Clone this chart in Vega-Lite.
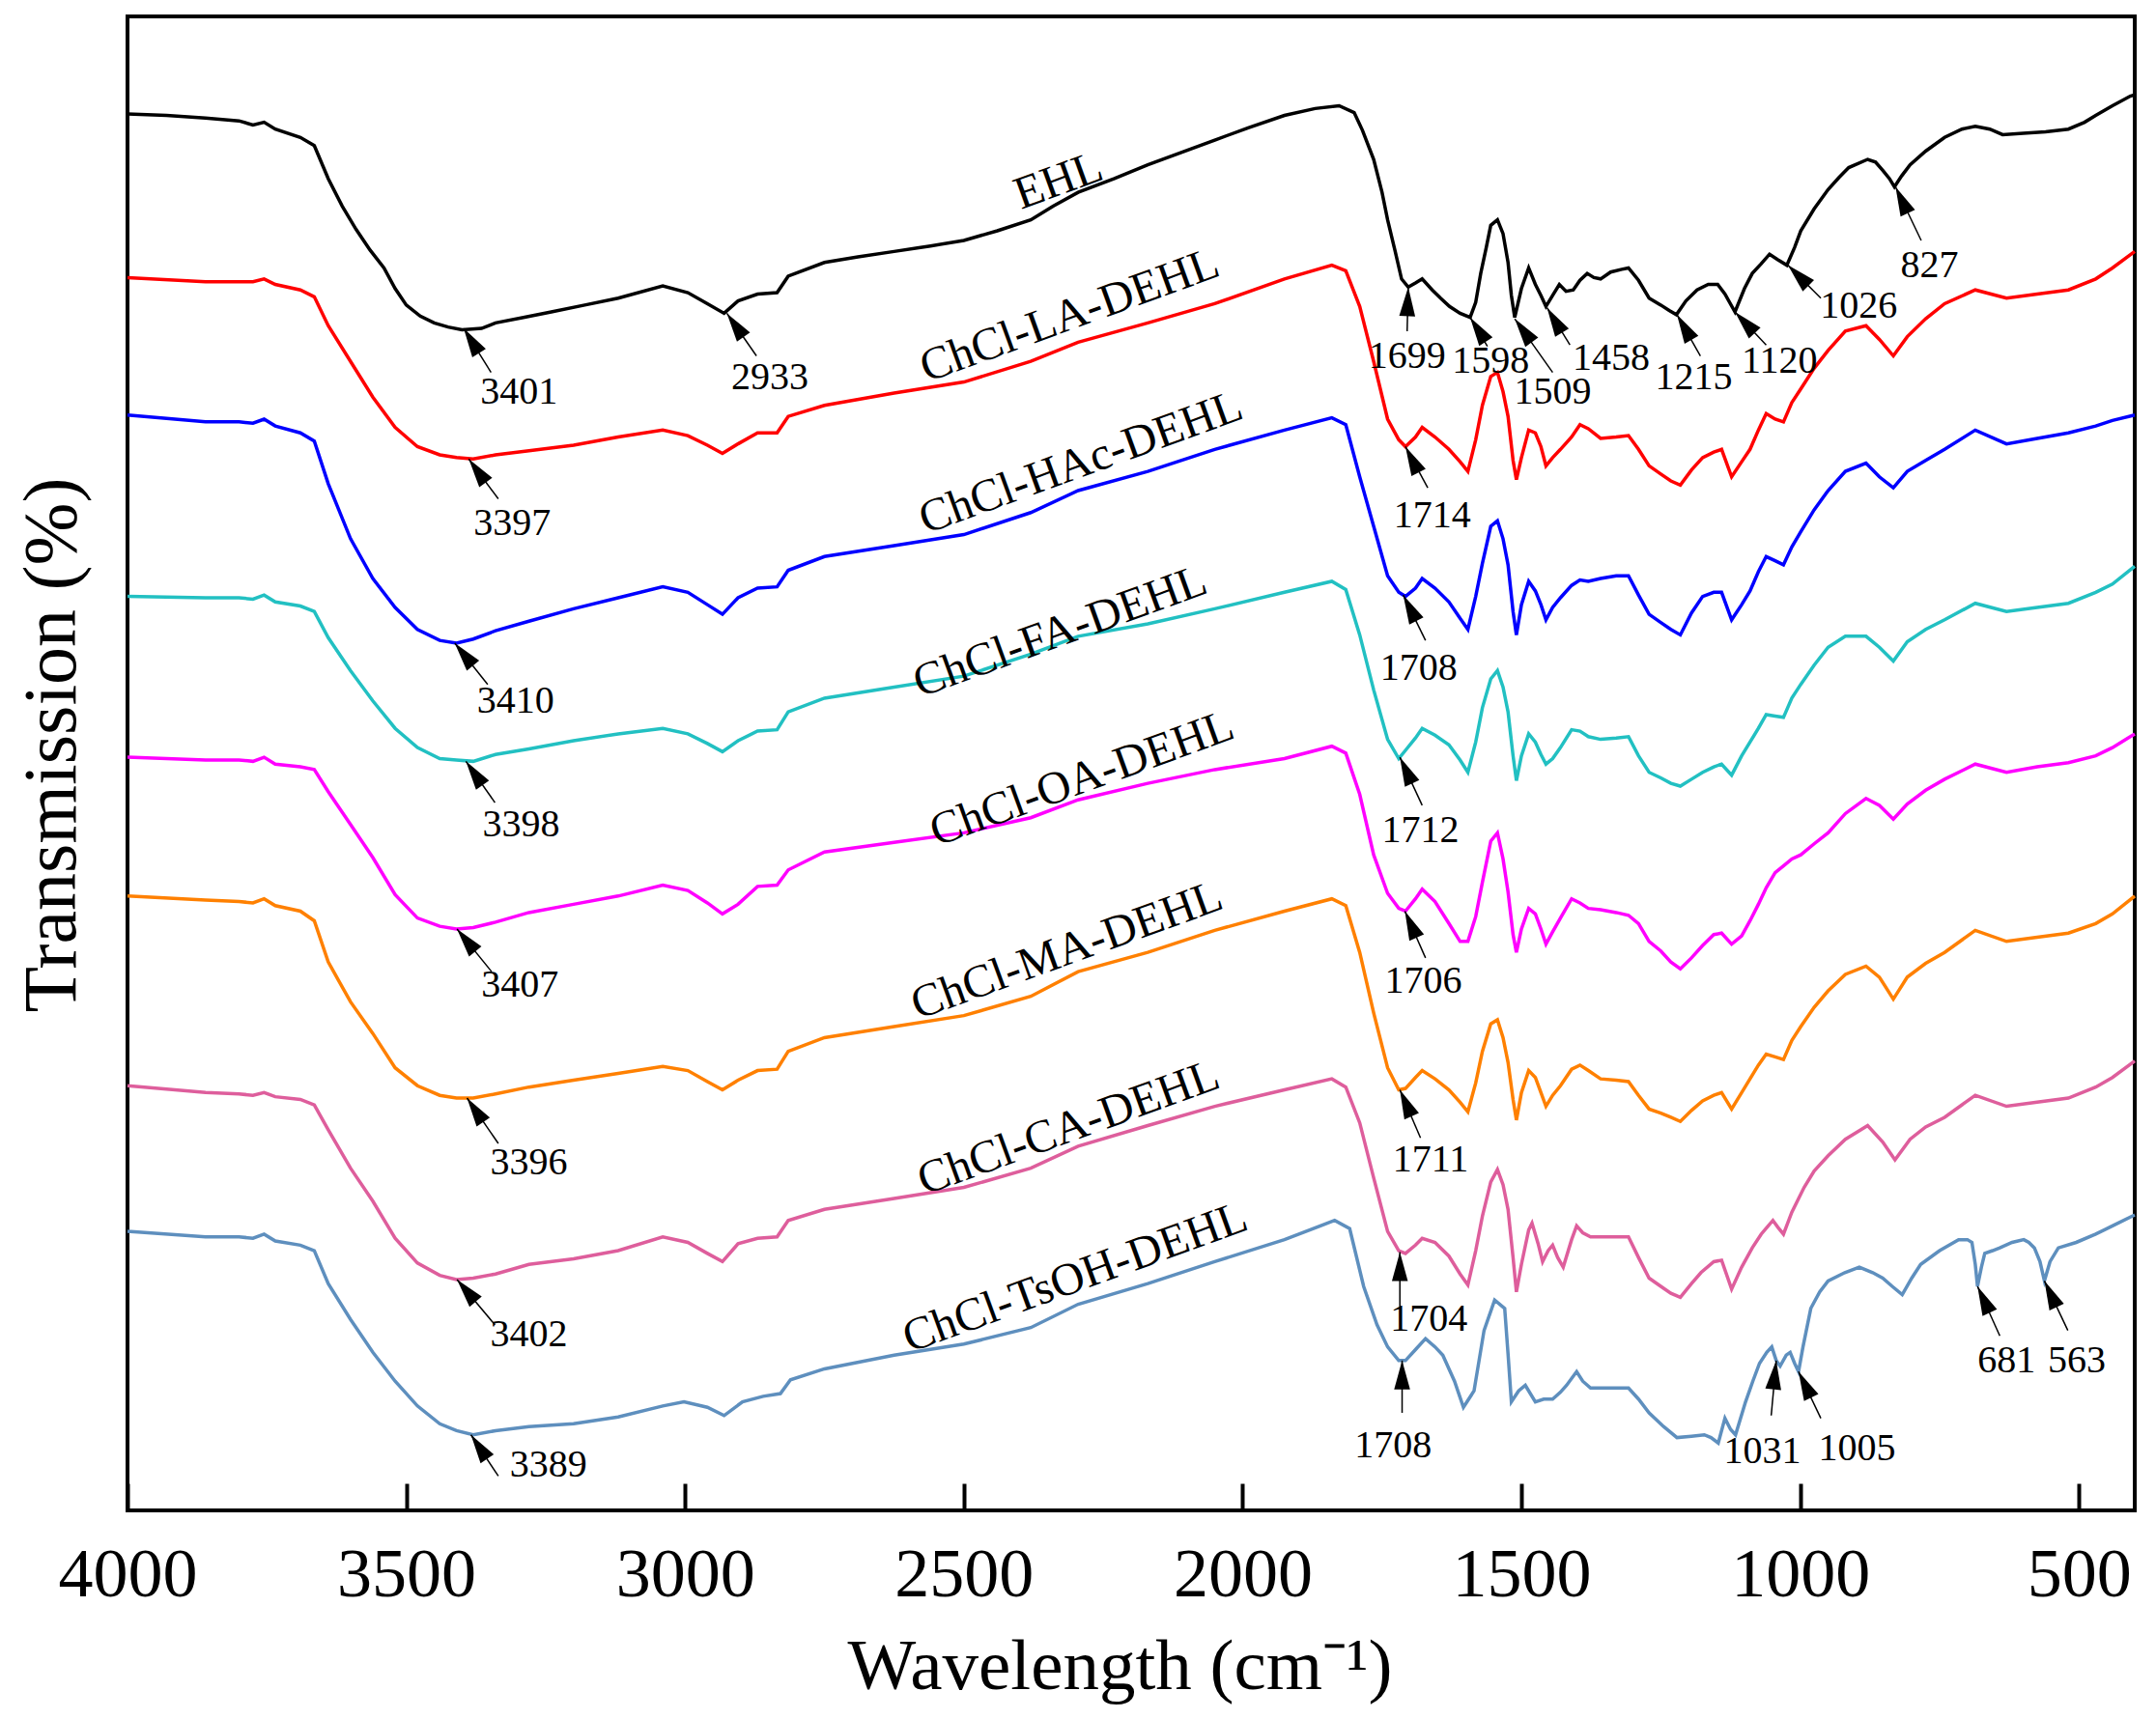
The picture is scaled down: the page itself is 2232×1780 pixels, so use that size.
{
"$schema": "https://vega.github.io/schema/vega-lite/v6.json",
"autosize": {"type": "none"},
"width": 2078,
"height": 1547,
"padding": {"left": 132, "top": 17, "right": 22, "bottom": 216},
"background": "white",
"config": {"view": {"stroke": "black", "strokeWidth": 4}, "axis": {"grid": false}},
"datasets": {
"spectra": [
{"s":"EHL","w":4000,"v":83},{"s":"EHL","w":3930,"v":84},{"s":"EHL","w":3860,"v":86},{"s":"EHL","w":3800,"v":88},{"s":"EHL","w":3775,"v":91},{"s":"EHL","w":3755,"v":89},{"s":"EHL","w":3735,"v":94},{"s":"EHL","w":3690,"v":100},{"s":"EHL","w":3665,"v":106},{"s":"EHL","w":3640,"v":130},{"s":"EHL","w":3615,"v":150},{"s":"EHL","w":3590,"v":167},{"s":"EHL","w":3565,"v":182},{"s":"EHL","w":3540,"v":195},{"s":"EHL","w":3520,"v":210},{"s":"EHL","w":3500,"v":222},{"s":"EHL","w":3475,"v":230},{"s":"EHL","w":3450,"v":235},{"s":"EHL","w":3425,"v":238},{"s":"EHL","w":3400,"v":240},{"s":"EHL","w":3365,"v":239},{"s":"EHL","w":3340,"v":235},{"s":"EHL","w":3290,"v":231},{"s":"EHL","w":3240,"v":227},{"s":"EHL","w":3180,"v":222},{"s":"EHL","w":3120,"v":217},{"s":"EHL","w":3040,"v":208},{"s":"EHL","w":2995,"v":213},{"s":"EHL","w":2960,"v":221},{"s":"EHL","w":2930,"v":228},{"s":"EHL","w":2905,"v":219},{"s":"EHL","w":2870,"v":214},{"s":"EHL","w":2835,"v":213},{"s":"EHL","w":2815,"v":201},{"s":"EHL","w":2750,"v":191},{"s":"EHL","w":2690,"v":187},{"s":"EHL","w":2625,"v":183},{"s":"EHL","w":2560,"v":179},{"s":"EHL","w":2500,"v":175},{"s":"EHL","w":2440,"v":168},{"s":"EHL","w":2380,"v":160},{"s":"EHL","w":2340,"v":150},{"s":"EHL","w":2295,"v":140},{"s":"EHL","w":2230,"v":130},{"s":"EHL","w":2170,"v":120},{"s":"EHL","w":2110,"v":111},{"s":"EHL","w":2050,"v":102},{"s":"EHL","w":1990,"v":93},{"s":"EHL","w":1925,"v":84},{"s":"EHL","w":1870,"v":79},{"s":"EHL","w":1827,"v":77},{"s":"EHL","w":1800,"v":82},{"s":"EHL","w":1785,"v":95},{"s":"EHL","w":1765,"v":116},{"s":"EHL","w":1750,"v":140},{"s":"EHL","w":1740,"v":160},{"s":"EHL","w":1727,"v":182},{"s":"EHL","w":1715,"v":203},{"s":"EHL","w":1703,"v":209},{"s":"EHL","w":1690,"v":206},{"s":"EHL","w":1678,"v":203},{"s":"EHL","w":1660,"v":211},{"s":"EHL","w":1645,"v":217},{"s":"EHL","w":1629,"v":223},{"s":"EHL","w":1610,"v":228},{"s":"EHL","w":1592,"v":231},{"s":"EHL","w":1582,"v":220},{"s":"EHL","w":1573,"v":199},{"s":"EHL","w":1563,"v":180},{"s":"EHL","w":1555,"v":164},{"s":"EHL","w":1543,"v":160},{"s":"EHL","w":1533,"v":170},{"s":"EHL","w":1524,"v":191},{"s":"EHL","w":1518,"v":215},{"s":"EHL","w":1512,"v":231},{"s":"EHL","w":1500,"v":210},{"s":"EHL","w":1487,"v":195},{"s":"EHL","w":1475,"v":207},{"s":"EHL","w":1465,"v":215},{"s":"EHL","w":1456,"v":223},{"s":"EHL","w":1444,"v":215},{"s":"EHL","w":1432,"v":207},{"s":"EHL","w":1420,"v":212},{"s":"EHL","w":1407,"v":211},{"s":"EHL","w":1395,"v":204},{"s":"EHL","w":1382,"v":199},{"s":"EHL","w":1370,"v":202},{"s":"EHL","w":1358,"v":203},{"s":"EHL","w":1340,"v":198},{"s":"EHL","w":1320,"v":196},{"s":"EHL","w":1308,"v":195},{"s":"EHL","w":1290,"v":204},{"s":"EHL","w":1271,"v":217},{"s":"EHL","w":1250,"v":222},{"s":"EHL","w":1235,"v":226},{"s":"EHL","w":1222,"v":229},{"s":"EHL","w":1205,"v":219},{"s":"EHL","w":1185,"v":211},{"s":"EHL","w":1165,"v":207},{"s":"EHL","w":1148,"v":207},{"s":"EHL","w":1135,"v":214},{"s":"EHL","w":1117,"v":227},{"s":"EHL","w":1100,"v":210},{"s":"EHL","w":1086,"v":199},{"s":"EHL","w":1070,"v":192},{"s":"EHL","w":1055,"v":185},{"s":"EHL","w":1040,"v":189},{"s":"EHL","w":1024,"v":193},{"s":"EHL","w":1010,"v":180},{"s":"EHL","w":999,"v":168},{"s":"EHL","w":975,"v":152},{"s":"EHL","w":950,"v":138},{"s":"EHL","w":930,"v":129},{"s":"EHL","w":913,"v":122},{"s":"EHL","w":879,"v":116},{"s":"EHL","w":865,"v":118},{"s":"EHL","w":852,"v":124},{"s":"EHL","w":840,"v":130},{"s":"EHL","w":831,"v":136},{"s":"EHL","w":818,"v":128},{"s":"EHL","w":803,"v":120},{"s":"EHL","w":775,"v":110},{"s":"EHL","w":741,"v":100},{"s":"EHL","w":710,"v":94},{"s":"EHL","w":686,"v":92},{"s":"EHL","w":660,"v":94},{"s":"EHL","w":637,"v":98},{"s":"EHL","w":600,"v":97},{"s":"EHL","w":560,"v":96},{"s":"EHL","w":519,"v":94},{"s":"EHL","w":490,"v":89},{"s":"EHL","w":470,"v":84},{"s":"EHL","w":440,"v":77},{"s":"EHL","w":408,"v":70},{"s":"EHL","w":400,"v":69},
{"s":"LA","w":4000,"v":202},{"s":"LA","w":3860,"v":205},{"s":"LA","w":3800,"v":205},{"s":"LA","w":3775,"v":205},{"s":"LA","w":3755,"v":203},{"s":"LA","w":3735,"v":207},{"s":"LA","w":3690,"v":211},{"s":"LA","w":3665,"v":216},{"s":"LA","w":3640,"v":237},{"s":"LA","w":3600,"v":263},{"s":"LA","w":3560,"v":289},{"s":"LA","w":3520,"v":311},{"s":"LA","w":3480,"v":325},{"s":"LA","w":3440,"v":331},{"s":"LA","w":3410,"v":333},{"s":"LA","w":3380,"v":334},{"s":"LA","w":3340,"v":331},{"s":"LA","w":3280,"v":328},{"s":"LA","w":3200,"v":324},{"s":"LA","w":3120,"v":318},{"s":"LA","w":3040,"v":313},{"s":"LA","w":2995,"v":317},{"s":"LA","w":2960,"v":324},{"s":"LA","w":2933,"v":330},{"s":"LA","w":2905,"v":323},{"s":"LA","w":2870,"v":315},{"s":"LA","w":2835,"v":315},{"s":"LA","w":2815,"v":303},{"s":"LA","w":2750,"v":295},{"s":"LA","w":2625,"v":286},{"s":"LA","w":2500,"v":278},{"s":"LA","w":2380,"v":263},{"s":"LA","w":2295,"v":249},{"s":"LA","w":2170,"v":235},{"s":"LA","w":2050,"v":221},{"s":"LA","w":1925,"v":203},{"s":"LA","w":1840,"v":193},{"s":"LA","w":1815,"v":197},{"s":"LA","w":1790,"v":223},{"s":"LA","w":1765,"v":263},{"s":"LA","w":1740,"v":305},{"s":"LA","w":1720,"v":320},{"s":"LA","w":1708,"v":325},{"s":"LA","w":1690,"v":318},{"s":"LA","w":1678,"v":311},{"s":"LA","w":1655,"v":318},{"s":"LA","w":1630,"v":327},{"s":"LA","w":1610,"v":336},{"s":"LA","w":1596,"v":343},{"s":"LA","w":1582,"v":320},{"s":"LA","w":1570,"v":295},{"s":"LA","w":1555,"v":274},{"s":"LA","w":1543,"v":271},{"s":"LA","w":1533,"v":285},{"s":"LA","w":1524,"v":303},{"s":"LA","w":1515,"v":335},{"s":"LA","w":1509,"v":349},{"s":"LA","w":1500,"v":333},{"s":"LA","w":1487,"v":313},{"s":"LA","w":1475,"v":315},{"s":"LA","w":1465,"v":325},{"s":"LA","w":1456,"v":339},{"s":"LA","w":1444,"v":333},{"s":"LA","w":1430,"v":327},{"s":"LA","w":1410,"v":318},{"s":"LA","w":1395,"v":309},{"s":"LA","w":1380,"v":312},{"s":"LA","w":1358,"v":319},{"s":"LA","w":1330,"v":318},{"s":"LA","w":1308,"v":317},{"s":"LA","w":1290,"v":327},{"s":"LA","w":1271,"v":339},{"s":"LA","w":1250,"v":345},{"s":"LA","w":1232,"v":350},{"s":"LA","w":1215,"v":353},{"s":"LA","w":1195,"v":342},{"s":"LA","w":1175,"v":333},{"s":"LA","w":1155,"v":329},{"s":"LA","w":1141,"v":327},{"s":"LA","w":1123,"v":347},{"s":"LA","w":1105,"v":336},{"s":"LA","w":1090,"v":327},{"s":"LA","w":1075,"v":313},{"s":"LA","w":1061,"v":301},{"s":"LA","w":1045,"v":305},{"s":"LA","w":1030,"v":307},{"s":"LA","w":1015,"v":293},{"s":"LA","w":999,"v":283},{"s":"LA","w":975,"v":268},{"s":"LA","w":950,"v":255},{"s":"LA","w":919,"v":241},{"s":"LA","w":882,"v":237},{"s":"LA","w":858,"v":247},{"s":"LA","w":833,"v":259},{"s":"LA","w":808,"v":245},{"s":"LA","w":775,"v":232},{"s":"LA","w":741,"v":221},{"s":"LA","w":686,"v":211},{"s":"LA","w":630,"v":217},{"s":"LA","w":575,"v":214},{"s":"LA","w":519,"v":211},{"s":"LA","w":470,"v":203},{"s":"LA","w":440,"v":195},{"s":"LA","w":400,"v":183},
{"s":"HAc","w":4000,"v":302},{"s":"HAc","w":3860,"v":307},{"s":"HAc","w":3800,"v":307},{"s":"HAc","w":3775,"v":308},{"s":"HAc","w":3755,"v":305},{"s":"HAc","w":3735,"v":310},{"s":"HAc","w":3690,"v":315},{"s":"HAc","w":3665,"v":321},{"s":"HAc","w":3640,"v":352},{"s":"HAc","w":3600,"v":392},{"s":"HAc","w":3560,"v":421},{"s":"HAc","w":3520,"v":442},{"s":"HAc","w":3480,"v":458},{"s":"HAc","w":3440,"v":466},{"s":"HAc","w":3410,"v":468},{"s":"HAc","w":3380,"v":465},{"s":"HAc","w":3340,"v":459},{"s":"HAc","w":3280,"v":452},{"s":"HAc","w":3200,"v":443},{"s":"HAc","w":3120,"v":435},{"s":"HAc","w":3040,"v":427},{"s":"HAc","w":2995,"v":431},{"s":"HAc","w":2960,"v":440},{"s":"HAc","w":2933,"v":447},{"s":"HAc","w":2905,"v":435},{"s":"HAc","w":2870,"v":428},{"s":"HAc","w":2835,"v":427},{"s":"HAc","w":2815,"v":415},{"s":"HAc","w":2750,"v":405},{"s":"HAc","w":2625,"v":397},{"s":"HAc","w":2500,"v":389},{"s":"HAc","w":2380,"v":373},{"s":"HAc","w":2295,"v":357},{"s":"HAc","w":2170,"v":343},{"s":"HAc","w":2050,"v":327},{"s":"HAc","w":1925,"v":313},{"s":"HAc","w":1840,"v":304},{"s":"HAc","w":1815,"v":309},{"s":"HAc","w":1790,"v":347},{"s":"HAc","w":1765,"v":383},{"s":"HAc","w":1740,"v":419},{"s":"HAc","w":1720,"v":431},{"s":"HAc","w":1708,"v":434},{"s":"HAc","w":1690,"v":428},{"s":"HAc","w":1678,"v":421},{"s":"HAc","w":1655,"v":428},{"s":"HAc","w":1630,"v":438},{"s":"HAc","w":1610,"v":450},{"s":"HAc","w":1596,"v":458},{"s":"HAc","w":1582,"v":434},{"s":"HAc","w":1570,"v":410},{"s":"HAc","w":1555,"v":383},{"s":"HAc","w":1543,"v":379},{"s":"HAc","w":1533,"v":392},{"s":"HAc","w":1524,"v":411},{"s":"HAc","w":1515,"v":445},{"s":"HAc","w":1509,"v":462},{"s":"HAc","w":1500,"v":440},{"s":"HAc","w":1487,"v":423},{"s":"HAc","w":1475,"v":430},{"s":"HAc","w":1465,"v":440},{"s":"HAc","w":1456,"v":451},{"s":"HAc","w":1444,"v":442},{"s":"HAc","w":1430,"v":435},{"s":"HAc","w":1410,"v":426},{"s":"HAc","w":1395,"v":422},{"s":"HAc","w":1380,"v":423},{"s":"HAc","w":1358,"v":421},{"s":"HAc","w":1330,"v":419},{"s":"HAc","w":1308,"v":419},{"s":"HAc","w":1290,"v":433},{"s":"HAc","w":1271,"v":447},{"s":"HAc","w":1250,"v":453},{"s":"HAc","w":1232,"v":458},{"s":"HAc","w":1215,"v":462},{"s":"HAc","w":1195,"v":446},{"s":"HAc","w":1175,"v":434},{"s":"HAc","w":1155,"v":431},{"s":"HAc","w":1141,"v":431},{"s":"HAc","w":1123,"v":451},{"s":"HAc","w":1105,"v":440},{"s":"HAc","w":1090,"v":430},{"s":"HAc","w":1075,"v":416},{"s":"HAc","w":1061,"v":405},{"s":"HAc","w":1045,"v":408},{"s":"HAc","w":1030,"v":411},{"s":"HAc","w":1015,"v":398},{"s":"HAc","w":999,"v":387},{"s":"HAc","w":975,"v":371},{"s":"HAc","w":950,"v":357},{"s":"HAc","w":919,"v":343},{"s":"HAc","w":882,"v":337},{"s":"HAc","w":858,"v":347},{"s":"HAc","w":833,"v":355},{"s":"HAc","w":808,"v":343},{"s":"HAc","w":775,"v":335},{"s":"HAc","w":741,"v":327},{"s":"HAc","w":686,"v":313},{"s":"HAc","w":630,"v":323},{"s":"HAc","w":575,"v":319},{"s":"HAc","w":519,"v":315},{"s":"HAc","w":470,"v":310},{"s":"HAc","w":440,"v":306},{"s":"HAc","w":400,"v":302},
{"s":"FA","w":4000,"v":434},{"s":"FA","w":3860,"v":435},{"s":"FA","w":3800,"v":435},{"s":"FA","w":3775,"v":436},{"s":"FA","w":3755,"v":433},{"s":"FA","w":3735,"v":438},{"s":"FA","w":3690,"v":441},{"s":"FA","w":3665,"v":445},{"s":"FA","w":3640,"v":464},{"s":"FA","w":3600,"v":488},{"s":"FA","w":3560,"v":510},{"s":"FA","w":3520,"v":530},{"s":"FA","w":3480,"v":544},{"s":"FA","w":3440,"v":552},{"s":"FA","w":3410,"v":553},{"s":"FA","w":3380,"v":554},{"s":"FA","w":3340,"v":549},{"s":"FA","w":3280,"v":545},{"s":"FA","w":3200,"v":539},{"s":"FA","w":3120,"v":534},{"s":"FA","w":3040,"v":530},{"s":"FA","w":2995,"v":534},{"s":"FA","w":2960,"v":541},{"s":"FA","w":2933,"v":547},{"s":"FA","w":2905,"v":539},{"s":"FA","w":2870,"v":532},{"s":"FA","w":2835,"v":531},{"s":"FA","w":2815,"v":518},{"s":"FA","w":2750,"v":508},{"s":"FA","w":2625,"v":500},{"s":"FA","w":2500,"v":492},{"s":"FA","w":2380,"v":476},{"s":"FA","w":2295,"v":463},{"s":"FA","w":2170,"v":454},{"s":"FA","w":2050,"v":443},{"s":"FA","w":1925,"v":431},{"s":"FA","w":1840,"v":423},{"s":"FA","w":1815,"v":429},{"s":"FA","w":1790,"v":462},{"s":"FA","w":1765,"v":502},{"s":"FA","w":1740,"v":538},{"s":"FA","w":1720,"v":552},{"s":"FA","w":1708,"v":546},{"s":"FA","w":1690,"v":537},{"s":"FA","w":1678,"v":530},{"s":"FA","w":1655,"v":535},{"s":"FA","w":1630,"v":542},{"s":"FA","w":1610,"v":553},{"s":"FA","w":1596,"v":562},{"s":"FA","w":1582,"v":540},{"s":"FA","w":1570,"v":515},{"s":"FA","w":1555,"v":494},{"s":"FA","w":1543,"v":488},{"s":"FA","w":1533,"v":500},{"s":"FA","w":1524,"v":518},{"s":"FA","w":1515,"v":550},{"s":"FA","w":1509,"v":568},{"s":"FA","w":1500,"v":550},{"s":"FA","w":1487,"v":534},{"s":"FA","w":1475,"v":540},{"s":"FA","w":1465,"v":549},{"s":"FA","w":1456,"v":556},{"s":"FA","w":1444,"v":552},{"s":"FA","w":1430,"v":544},{"s":"FA","w":1410,"v":531},{"s":"FA","w":1395,"v":532},{"s":"FA","w":1380,"v":536},{"s":"FA","w":1358,"v":538},{"s":"FA","w":1330,"v":537},{"s":"FA","w":1308,"v":536},{"s":"FA","w":1290,"v":550},{"s":"FA","w":1271,"v":562},{"s":"FA","w":1250,"v":566},{"s":"FA","w":1232,"v":570},{"s":"FA","w":1215,"v":572},{"s":"FA","w":1195,"v":567},{"s":"FA","w":1175,"v":562},{"s":"FA","w":1155,"v":558},{"s":"FA","w":1141,"v":556},{"s":"FA","w":1123,"v":564},{"s":"FA","w":1105,"v":550},{"s":"FA","w":1090,"v":540},{"s":"FA","w":1075,"v":530},{"s":"FA","w":1061,"v":520},{"s":"FA","w":1045,"v":521},{"s":"FA","w":1030,"v":522},{"s":"FA","w":1015,"v":508},{"s":"FA","w":999,"v":498},{"s":"FA","w":975,"v":484},{"s":"FA","w":950,"v":471},{"s":"FA","w":919,"v":463},{"s":"FA","w":882,"v":463},{"s":"FA","w":858,"v":471},{"s":"FA","w":833,"v":481},{"s":"FA","w":808,"v":467},{"s":"FA","w":775,"v":458},{"s":"FA","w":741,"v":451},{"s":"FA","w":686,"v":439},{"s":"FA","w":630,"v":445},{"s":"FA","w":575,"v":442},{"s":"FA","w":519,"v":439},{"s":"FA","w":470,"v":431},{"s":"FA","w":440,"v":425},{"s":"FA","w":400,"v":412},
{"s":"OA","w":4000,"v":551},{"s":"OA","w":3860,"v":553},{"s":"OA","w":3800,"v":553},{"s":"OA","w":3775,"v":554},{"s":"OA","w":3755,"v":551},{"s":"OA","w":3735,"v":556},{"s":"OA","w":3690,"v":558},{"s":"OA","w":3665,"v":560},{"s":"OA","w":3640,"v":576},{"s":"OA","w":3600,"v":600},{"s":"OA","w":3560,"v":624},{"s":"OA","w":3520,"v":651},{"s":"OA","w":3480,"v":668},{"s":"OA","w":3440,"v":674},{"s":"OA","w":3410,"v":676},{"s":"OA","w":3380,"v":675},{"s":"OA","w":3340,"v":671},{"s":"OA","w":3280,"v":664},{"s":"OA","w":3200,"v":658},{"s":"OA","w":3120,"v":652},{"s":"OA","w":3040,"v":644},{"s":"OA","w":2995,"v":648},{"s":"OA","w":2960,"v":657},{"s":"OA","w":2933,"v":665},{"s":"OA","w":2905,"v":658},{"s":"OA","w":2870,"v":645},{"s":"OA","w":2835,"v":644},{"s":"OA","w":2815,"v":633},{"s":"OA","w":2750,"v":620},{"s":"OA","w":2625,"v":613},{"s":"OA","w":2500,"v":606},{"s":"OA","w":2380,"v":595},{"s":"OA","w":2295,"v":582},{"s":"OA","w":2170,"v":570},{"s":"OA","w":2050,"v":560},{"s":"OA","w":1925,"v":552},{"s":"OA","w":1840,"v":543},{"s":"OA","w":1815,"v":548},{"s":"OA","w":1790,"v":578},{"s":"OA","w":1765,"v":622},{"s":"OA","w":1740,"v":650},{"s":"OA","w":1720,"v":661},{"s":"OA","w":1708,"v":663},{"s":"OA","w":1690,"v":654},{"s":"OA","w":1678,"v":647},{"s":"OA","w":1655,"v":656},{"s":"OA","w":1630,"v":672},{"s":"OA","w":1610,"v":685},{"s":"OA","w":1596,"v":685},{"s":"OA","w":1582,"v":667},{"s":"OA","w":1570,"v":642},{"s":"OA","w":1555,"v":612},{"s":"OA","w":1543,"v":606},{"s":"OA","w":1533,"v":625},{"s":"OA","w":1524,"v":649},{"s":"OA","w":1515,"v":680},{"s":"OA","w":1509,"v":693},{"s":"OA","w":1500,"v":676},{"s":"OA","w":1487,"v":661},{"s":"OA","w":1475,"v":665},{"s":"OA","w":1465,"v":676},{"s":"OA","w":1456,"v":687},{"s":"OA","w":1444,"v":678},{"s":"OA","w":1430,"v":668},{"s":"OA","w":1410,"v":654},{"s":"OA","w":1395,"v":657},{"s":"OA","w":1380,"v":661},{"s":"OA","w":1358,"v":662},{"s":"OA","w":1330,"v":664},{"s":"OA","w":1308,"v":666},{"s":"OA","w":1290,"v":672},{"s":"OA","w":1271,"v":685},{"s":"OA","w":1250,"v":692},{"s":"OA","w":1232,"v":700},{"s":"OA","w":1215,"v":705},{"s":"OA","w":1195,"v":697},{"s":"OA","w":1175,"v":688},{"s":"OA","w":1155,"v":680},{"s":"OA","w":1141,"v":679},{"s":"OA","w":1123,"v":687},{"s":"OA","w":1105,"v":681},{"s":"OA","w":1090,"v":670},{"s":"OA","w":1075,"v":658},{"s":"OA","w":1061,"v":646},{"s":"OA","w":1045,"v":635},{"s":"OA","w":1030,"v":630},{"s":"OA","w":1015,"v":625},{"s":"OA","w":999,"v":622},{"s":"OA","w":975,"v":614},{"s":"OA","w":950,"v":606},{"s":"OA","w":919,"v":592},{"s":"OA","w":882,"v":581},{"s":"OA","w":858,"v":586},{"s":"OA","w":833,"v":596},{"s":"OA","w":808,"v":585},{"s":"OA","w":775,"v":575},{"s":"OA","w":741,"v":567},{"s":"OA","w":686,"v":556},{"s":"OA","w":630,"v":562},{"s":"OA","w":575,"v":558},{"s":"OA","w":519,"v":555},{"s":"OA","w":470,"v":550},{"s":"OA","w":440,"v":544},{"s":"OA","w":400,"v":534},
{"s":"MA","w":4000,"v":652},{"s":"MA","w":3860,"v":655},{"s":"MA","w":3800,"v":656},{"s":"MA","w":3775,"v":657},{"s":"MA","w":3755,"v":654},{"s":"MA","w":3735,"v":659},{"s":"MA","w":3690,"v":663},{"s":"MA","w":3665,"v":670},{"s":"MA","w":3640,"v":700},{"s":"MA","w":3600,"v":729},{"s":"MA","w":3560,"v":752},{"s":"MA","w":3520,"v":777},{"s":"MA","w":3480,"v":790},{"s":"MA","w":3440,"v":797},{"s":"MA","w":3410,"v":799},{"s":"MA","w":3380,"v":799},{"s":"MA","w":3340,"v":796},{"s":"MA","w":3280,"v":791},{"s":"MA","w":3200,"v":786},{"s":"MA","w":3120,"v":781},{"s":"MA","w":3040,"v":776},{"s":"MA","w":2995,"v":779},{"s":"MA","w":2960,"v":787},{"s":"MA","w":2933,"v":793},{"s":"MA","w":2905,"v":786},{"s":"MA","w":2870,"v":779},{"s":"MA","w":2835,"v":778},{"s":"MA","w":2815,"v":765},{"s":"MA","w":2750,"v":755},{"s":"MA","w":2625,"v":747},{"s":"MA","w":2500,"v":739},{"s":"MA","w":2380,"v":725},{"s":"MA","w":2295,"v":707},{"s":"MA","w":2170,"v":693},{"s":"MA","w":2050,"v":677},{"s":"MA","w":1925,"v":663},{"s":"MA","w":1840,"v":654},{"s":"MA","w":1815,"v":659},{"s":"MA","w":1790,"v":693},{"s":"MA","w":1765,"v":737},{"s":"MA","w":1740,"v":777},{"s":"MA","w":1720,"v":793},{"s":"MA","w":1708,"v":792},{"s":"MA","w":1690,"v":784},{"s":"MA","w":1678,"v":779},{"s":"MA","w":1655,"v":785},{"s":"MA","w":1630,"v":793},{"s":"MA","w":1610,"v":802},{"s":"MA","w":1596,"v":809},{"s":"MA","w":1582,"v":788},{"s":"MA","w":1570,"v":765},{"s":"MA","w":1555,"v":745},{"s":"MA","w":1543,"v":742},{"s":"MA","w":1533,"v":755},{"s":"MA","w":1524,"v":773},{"s":"MA","w":1515,"v":800},{"s":"MA","w":1509,"v":815},{"s":"MA","w":1500,"v":795},{"s":"MA","w":1487,"v":779},{"s":"MA","w":1475,"v":784},{"s":"MA","w":1465,"v":795},{"s":"MA","w":1456,"v":805},{"s":"MA","w":1444,"v":797},{"s":"MA","w":1430,"v":790},{"s":"MA","w":1410,"v":778},{"s":"MA","w":1395,"v":775},{"s":"MA","w":1380,"v":779},{"s":"MA","w":1358,"v":785},{"s":"MA","w":1330,"v":786},{"s":"MA","w":1308,"v":787},{"s":"MA","w":1290,"v":797},{"s":"MA","w":1271,"v":807},{"s":"MA","w":1250,"v":810},{"s":"MA","w":1232,"v":813},{"s":"MA","w":1215,"v":816},{"s":"MA","w":1195,"v":808},{"s":"MA","w":1175,"v":801},{"s":"MA","w":1155,"v":797},{"s":"MA","w":1141,"v":795},{"s":"MA","w":1123,"v":807},{"s":"MA","w":1105,"v":795},{"s":"MA","w":1090,"v":785},{"s":"MA","w":1075,"v":775},{"s":"MA","w":1061,"v":767},{"s":"MA","w":1045,"v":769},{"s":"MA","w":1030,"v":771},{"s":"MA","w":1015,"v":757},{"s":"MA","w":999,"v":747},{"s":"MA","w":975,"v":733},{"s":"MA","w":950,"v":721},{"s":"MA","w":919,"v":709},{"s":"MA","w":882,"v":703},{"s":"MA","w":858,"v":711},{"s":"MA","w":833,"v":727},{"s":"MA","w":808,"v":711},{"s":"MA","w":775,"v":701},{"s":"MA","w":741,"v":693},{"s":"MA","w":686,"v":677},{"s":"MA","w":630,"v":685},{"s":"MA","w":575,"v":682},{"s":"MA","w":519,"v":679},{"s":"MA","w":470,"v":672},{"s":"MA","w":440,"v":665},{"s":"MA","w":400,"v":652},
{"s":"CA","w":4000,"v":790},{"s":"CA","w":3860,"v":795},{"s":"CA","w":3800,"v":796},{"s":"CA","w":3775,"v":797},{"s":"CA","w":3755,"v":795},{"s":"CA","w":3735,"v":798},{"s":"CA","w":3690,"v":800},{"s":"CA","w":3665,"v":804},{"s":"CA","w":3640,"v":822},{"s":"CA","w":3600,"v":850},{"s":"CA","w":3560,"v":874},{"s":"CA","w":3520,"v":901},{"s":"CA","w":3480,"v":919},{"s":"CA","w":3440,"v":928},{"s":"CA","w":3410,"v":931},{"s":"CA","w":3380,"v":930},{"s":"CA","w":3340,"v":927},{"s":"CA","w":3280,"v":920},{"s":"CA","w":3200,"v":916},{"s":"CA","w":3120,"v":910},{"s":"CA","w":3040,"v":900},{"s":"CA","w":2995,"v":904},{"s":"CA","w":2960,"v":912},{"s":"CA","w":2933,"v":918},{"s":"CA","w":2905,"v":905},{"s":"CA","w":2870,"v":901},{"s":"CA","w":2835,"v":900},{"s":"CA","w":2815,"v":888},{"s":"CA","w":2750,"v":880},{"s":"CA","w":2625,"v":872},{"s":"CA","w":2500,"v":864},{"s":"CA","w":2380,"v":850},{"s":"CA","w":2295,"v":834},{"s":"CA","w":2170,"v":819},{"s":"CA","w":2050,"v":805},{"s":"CA","w":1925,"v":793},{"s":"CA","w":1840,"v":785},{"s":"CA","w":1815,"v":791},{"s":"CA","w":1790,"v":817},{"s":"CA","w":1765,"v":857},{"s":"CA","w":1740,"v":896},{"s":"CA","w":1720,"v":910},{"s":"CA","w":1708,"v":912},{"s":"CA","w":1690,"v":906},{"s":"CA","w":1678,"v":901},{"s":"CA","w":1655,"v":904},{"s":"CA","w":1630,"v":914},{"s":"CA","w":1610,"v":927},{"s":"CA","w":1596,"v":935},{"s":"CA","w":1582,"v":910},{"s":"CA","w":1570,"v":885},{"s":"CA","w":1555,"v":860},{"s":"CA","w":1543,"v":851},{"s":"CA","w":1533,"v":862},{"s":"CA","w":1524,"v":880},{"s":"CA","w":1515,"v":915},{"s":"CA","w":1509,"v":940},{"s":"CA","w":1500,"v":920},{"s":"CA","w":1487,"v":895},{"s":"CA","w":1481,"v":890},{"s":"CA","w":1470,"v":905},{"s":"CA","w":1462,"v":918},{"s":"CA","w":1452,"v":910},{"s":"CA","w":1444,"v":906},{"s":"CA","w":1435,"v":915},{"s":"CA","w":1425,"v":922},{"s":"CA","w":1410,"v":902},{"s":"CA","w":1401,"v":892},{"s":"CA","w":1390,"v":897},{"s":"CA","w":1376,"v":900},{"s":"CA","w":1340,"v":900},{"s":"CA","w":1308,"v":900},{"s":"CA","w":1290,"v":915},{"s":"CA","w":1271,"v":930},{"s":"CA","w":1250,"v":936},{"s":"CA","w":1232,"v":941},{"s":"CA","w":1215,"v":944},{"s":"CA","w":1195,"v":934},{"s":"CA","w":1178,"v":926},{"s":"CA","w":1155,"v":918},{"s":"CA","w":1141,"v":917},{"s":"CA","w":1123,"v":938},{"s":"CA","w":1105,"v":922},{"s":"CA","w":1086,"v":908},{"s":"CA","w":1070,"v":898},{"s":"CA","w":1049,"v":888},{"s":"CA","w":1040,"v":893},{"s":"CA","w":1030,"v":898},{"s":"CA","w":1015,"v":882},{"s":"CA","w":993,"v":864},{"s":"CA","w":975,"v":852},{"s":"CA","w":950,"v":841},{"s":"CA","w":919,"v":829},{"s":"CA","w":879,"v":819},{"s":"CA","w":852,"v":831},{"s":"CA","w":830,"v":844},{"s":"CA","w":803,"v":829},{"s":"CA","w":775,"v":820},{"s":"CA","w":741,"v":813},{"s":"CA","w":686,"v":797},{"s":"CA","w":630,"v":805},{"s":"CA","w":575,"v":802},{"s":"CA","w":519,"v":799},{"s":"CA","w":470,"v":791},{"s":"CA","w":440,"v":784},{"s":"CA","w":400,"v":772},
{"s":"TsOH","w":4000,"v":896},{"s":"TsOH","w":3860,"v":900},{"s":"TsOH","w":3800,"v":900},{"s":"TsOH","w":3775,"v":901},{"s":"TsOH","w":3755,"v":898},{"s":"TsOH","w":3735,"v":903},{"s":"TsOH","w":3690,"v":906},{"s":"TsOH","w":3665,"v":910},{"s":"TsOH","w":3640,"v":934},{"s":"TsOH","w":3600,"v":960},{"s":"TsOH","w":3560,"v":984},{"s":"TsOH","w":3520,"v":1005},{"s":"TsOH","w":3480,"v":1023},{"s":"TsOH","w":3440,"v":1036},{"s":"TsOH","w":3410,"v":1041},{"s":"TsOH","w":3380,"v":1044},{"s":"TsOH","w":3340,"v":1041},{"s":"TsOH","w":3280,"v":1038},{"s":"TsOH","w":3200,"v":1036},{"s":"TsOH","w":3120,"v":1031},{"s":"TsOH","w":3040,"v":1023},{"s":"TsOH","w":3002,"v":1020},{"s":"TsOH","w":2960,"v":1024},{"s":"TsOH","w":2930,"v":1030},{"s":"TsOH","w":2897,"v":1020},{"s":"TsOH","w":2860,"v":1016},{"s":"TsOH","w":2829,"v":1014},{"s":"TsOH","w":2811,"v":1004},{"s":"TsOH","w":2750,"v":996},{"s":"TsOH","w":2625,"v":986},{"s":"TsOH","w":2500,"v":978},{"s":"TsOH","w":2380,"v":966},{"s":"TsOH","w":2295,"v":949},{"s":"TsOH","w":2170,"v":934},{"s":"TsOH","w":2050,"v":918},{"s":"TsOH","w":1925,"v":902},{"s":"TsOH","w":1835,"v":888},{"s":"TsOH","w":1808,"v":894},{"s":"TsOH","w":1783,"v":936},{"s":"TsOH","w":1759,"v":964},{"s":"TsOH","w":1740,"v":980},{"s":"TsOH","w":1720,"v":990},{"s":"TsOH","w":1708,"v":990},{"s":"TsOH","w":1690,"v":982},{"s":"TsOH","w":1672,"v":974},{"s":"TsOH","w":1655,"v":980},{"s":"TsOH","w":1641,"v":986},{"s":"TsOH","w":1620,"v":1005},{"s":"TsOH","w":1604,"v":1024},{"s":"TsOH","w":1585,"v":1012},{"s":"TsOH","w":1567,"v":968},{"s":"TsOH","w":1548,"v":946},{"s":"TsOH","w":1530,"v":952},{"s":"TsOH","w":1524,"v":985},{"s":"TsOH","w":1518,"v":1020},{"s":"TsOH","w":1505,"v":1012},{"s":"TsOH","w":1493,"v":1008},{"s":"TsOH","w":1475,"v":1020},{"s":"TsOH","w":1460,"v":1018},{"s":"TsOH","w":1444,"v":1018},{"s":"TsOH","w":1430,"v":1013},{"s":"TsOH","w":1419,"v":1008},{"s":"TsOH","w":1401,"v":998},{"s":"TsOH","w":1390,"v":1005},{"s":"TsOH","w":1376,"v":1010},{"s":"TsOH","w":1340,"v":1010},{"s":"TsOH","w":1308,"v":1010},{"s":"TsOH","w":1290,"v":1018},{"s":"TsOH","w":1271,"v":1028},{"s":"TsOH","w":1245,"v":1038},{"s":"TsOH","w":1221,"v":1046},{"s":"TsOH","w":1195,"v":1045},{"s":"TsOH","w":1172,"v":1044},{"s":"TsOH","w":1160,"v":1046},{"s":"TsOH","w":1147,"v":1050},{"s":"TsOH","w":1135,"v":1032},{"s":"TsOH","w":1125,"v":1040},{"s":"TsOH","w":1116,"v":1044},{"s":"TsOH","w":1098,"v":1020},{"s":"TsOH","w":1085,"v":1005},{"s":"TsOH","w":1073,"v":992},{"s":"TsOH","w":1060,"v":984},{"s":"TsOH","w":1051,"v":980},{"s":"TsOH","w":1043,"v":990},{"s":"TsOH","w":1036,"v":994},{"s":"TsOH","w":1025,"v":986},{"s":"TsOH","w":1018,"v":984},{"s":"TsOH","w":1010,"v":992},{"s":"TsOH","w":1003,"v":998},{"s":"TsOH","w":995,"v":980},{"s":"TsOH","w":981,"v":952},{"s":"TsOH","w":965,"v":940},{"s":"TsOH","w":950,"v":932},{"s":"TsOH","w":920,"v":926},{"s":"TsOH","w":894,"v":922},{"s":"TsOH","w":870,"v":926},{"s":"TsOH","w":852,"v":930},{"s":"TsOH","w":835,"v":936},{"s":"TsOH","w":817,"v":942},{"s":"TsOH","w":800,"v":930},{"s":"TsOH","w":784,"v":920},{"s":"TsOH","w":750,"v":910},{"s":"TsOH","w":716,"v":902},{"s":"TsOH","w":700,"v":902},{"s":"TsOH","w":692,"v":904},{"s":"TsOH","w":686,"v":920},{"s":"TsOH","w":682,"v":936},{"s":"TsOH","w":675,"v":922},{"s":"TsOH","w":669,"v":912},{"s":"TsOH","w":655,"v":910},{"s":"TsOH","w":642,"v":908},{"s":"TsOH","w":620,"v":904},{"s":"TsOH","w":599,"v":902},{"s":"TsOH","w":590,"v":904},{"s":"TsOH","w":580,"v":908},{"s":"TsOH","w":570,"v":918},{"s":"TsOH","w":562,"v":932},{"s":"TsOH","w":552,"v":918},{"s":"TsOH","w":537,"v":908},{"s":"TsOH","w":505,"v":904},{"s":"TsOH","w":470,"v":898},{"s":"TsOH","w":440,"v":892},{"s":"TsOH","w":400,"v":884}
],
"arrows": [
{"w":3397,"v":239,"w2":3348,"v2":271,"ang":-32},
{"w":2925,"v":228,"w2":2872,"v2":259,"ang":-35},
{"w":1703,"v":209,"w2":1705,"v2":241,"ang":2},
{"w":1592,"v":231,"w2":1561,"v2":252,"ang":-33},
{"w":1512,"v":232,"w2":1444,"v2":271,"ang":-36},
{"w":1454,"v":224,"w2":1413,"v2":251,"ang":-31},
{"w":1221,"v":229,"w2":1179,"v2":259,"ang":-30},
{"w":1117,"v":227,"w2":1061,"v2":251,"ang":-43},
{"w":1022,"v":193,"w2":963,"v2":217,"ang":-45},
{"w":829,"v":136,"w2":783,"v2":175,"ang":-25},
{"w":3388,"v":334,"w2":3335,"v2":363,"ang":-36},
{"w":1708,"v":325,"w2":1668,"v2":355,"ang":-27},
{"w":3413,"v":468,"w2":3354,"v2":498,"ang":-39},
{"w":1712,"v":433,"w2":1672,"v2":466,"ang":-27},
{"w":3393,"v":554,"w2":3341,"v2":584,"ang":-35},
{"w":1718,"v":551,"w2":1678,"v2":586,"ang":-25},
{"w":3409,"v":676,"w2":3347,"v2":707,"ang":-39},
{"w":1709,"v":663,"w2":1672,"v2":697,"ang":-24},
{"w":3391,"v":799,"w2":3335,"v2":832,"ang":-34},
{"w":1718,"v":793,"w2":1681,"v2":828,"ang":-24},
{"w":3409,"v":931,"w2":3341,"v2":964,"ang":-40},
{"w":1718,"v":911,"w2":1718,"v2":952,"ang":0},
{"w":3384,"v":1044,"w2":3335,"v2":1074,"ang":-34},
{"w":1714,"v":990,"w2":1714,"v2":1028,"ang":0},
{"w":1043,"v":990,"w2":1052,"v2":1030,"ang":6},
{"w":1003,"v":998,"w2":963,"v2":1032,"ang":-26},
{"w":682,"v":936,"w2":642,"v2":972,"ang":-25},
{"w":562,"v":932,"w2":520,"v2":968,"ang":-25}
],
"peaks": [
{"lab":"3401","w":3298,"v":285},{"lab":"2933","w":2848,"v":275},{"lab":"1699","w":1705,"v":259},{"lab":"1598","w":1555,"v":263},{"lab":"1509","w":1444,"v":285},{"lab":"1458","w":1339,"v":261},{"lab":"1215","w":1191,"v":275},{"lab":"1120","w":1037,"v":263},{"lab":"1026","w":895,"v":223},{"lab":"827","w":768,"v":193},
{"lab":"3397","w":3310,"v":381},{"lab":"1714","w":1660,"v":375},
{"lab":"3410","w":3304,"v":510},{"lab":"1708","w":1684,"v":486},
{"lab":"3398","w":3294,"v":600},{"lab":"1712","w":1681,"v":604},
{"lab":"3407","w":3296,"v":717},{"lab":"1706","w":1676,"v":714},
{"lab":"3396","w":3280,"v":846},{"lab":"1711","w":1663,"v":844},
{"lab":"3402","w":3280,"v":971},{"lab":"1704","w":1666,"v":960},
{"lab":"3389","w":3245,"v":1066},{"lab":"1708","w":1730,"v":1052},{"lab":"1031","w":1068,"v":1056},{"lab":"1005","w":898,"v":1054},{"lab":"681","w":630,"v":990},{"lab":"563","w":504,"v":990}
],
"names": [
{"name":"EHL","w":2330,"v":132},
{"name":"ChCl-LA-DEHL","w":2310,"v":230},
{"name":"ChCl-HAc-DEHL","w":2290,"v":337},
{"name":"ChCl-FA-DEHL","w":2327,"v":460},
{"name":"ChCl-OA-DEHL","w":2288,"v":567},
{"name":"ChCl-MA-DEHL","w":2315,"v":692},
{"name":"ChCl-CA-DEHL","w":2312,"v":821},
{"name":"ChCl-TsOH-DEHL","w":2300,"v":930}
],
"minor": [{"w":3750},{"w":3250},{"w":2750},{"w":2250},{"w":1750},{"w":1250},{"w":750}]
},
"encoding": {
"x": {"field": "w", "type": "quantitative", "scale": {"domain": [4000, 400], "nice": false, "zero": false},
"axis": {"values": [4000,3500,3000,2500,2000,1500,1000,500],
"format": "d", "domain": false, "grid": false, "ticks": true, "tickColor": "black", "tickWidth": 4, "tickSize": -28,
"labelFont": "Liberation Serif", "labelFontSize": 72, "labelColor": "black", "labelPadding": 59, "labelFlush": false, "labelOverlap": false,
"title": "Wavelength (cm⁻¹)", "titleFont": "Liberation Serif", "titleFontSize": 75, "titleFontWeight": "normal", "titleColor": "black",
"titleBaseline": "alphabetic", "titleY": 184, "titleX": 1027}},
"y": {"field": "v", "type": "quantitative", "scale": {"domain": [1099, 12], "nice": false, "zero": false},
"axis": {"labels": false, "ticks": false, "domain": false, "grid": false,
"title": "Transmission (%)", "titleFont": "Liberation Serif", "titleFontSize": 78, "titleFontWeight": "normal", "titleColor": "black",
"titleBaseline": "alphabetic", "titleX": -55, "titleY": 754}}
},
"layer": [
{
"data": {"name": "spectra"},
"mark": {"type": "line", "strokeWidth": 3.5, "interpolate": "linear"},
"encoding": {
"color": {"field": "s", "type": "nominal", "legend": null,
"scale": {"domain": ["EHL","LA","HAc","FA","OA","MA","CA","TsOH"],
"range": ["#000000","#FF0000","#0000FF","#22C0C2","#FF00FF","#FF8000","#DE5E9C","#5E8FBE"]}}
}
},
{
"data": {"name": "minor"},
"mark": {"type": "rule", "color": "black", "strokeWidth": 4},
"encoding": {"y": {"datum": 1099}, "y2": {"datum": 1090}}
},
{
"data": {"name": "arrows"},
"mark": {"type": "rule", "color": "black", "strokeWidth": 1.5},
"encoding": {"x2": {"field": "w2"}, "y2": {"field": "v2"}}
},
{
"data": {"name": "arrows"},
"mark": {"type": "point", "shape": "M0,0L-0.55,2L0.55,2Z", "filled": true, "color": "black", "opacity": 1, "size": 900, "strokeWidth": 0},
"encoding": {"angle": {"field": "ang", "type": "quantitative", "scale": null}}
},
{
"data": {"name": "peaks"},
"mark": {"type": "text", "font": "Liberation Serif", "fontSize": 40, "color": "black", "align": "center", "baseline": "middle"},
"encoding": {"text": {"field": "lab"}}
},
{
"data": {"name": "names"},
"mark": {"type": "text", "font": "Liberation Serif", "fontSize": 48, "color": "black", "align": "center", "baseline": "middle", "angle": -20},
"encoding": {"text": {"field": "name"}}
}
]
}
